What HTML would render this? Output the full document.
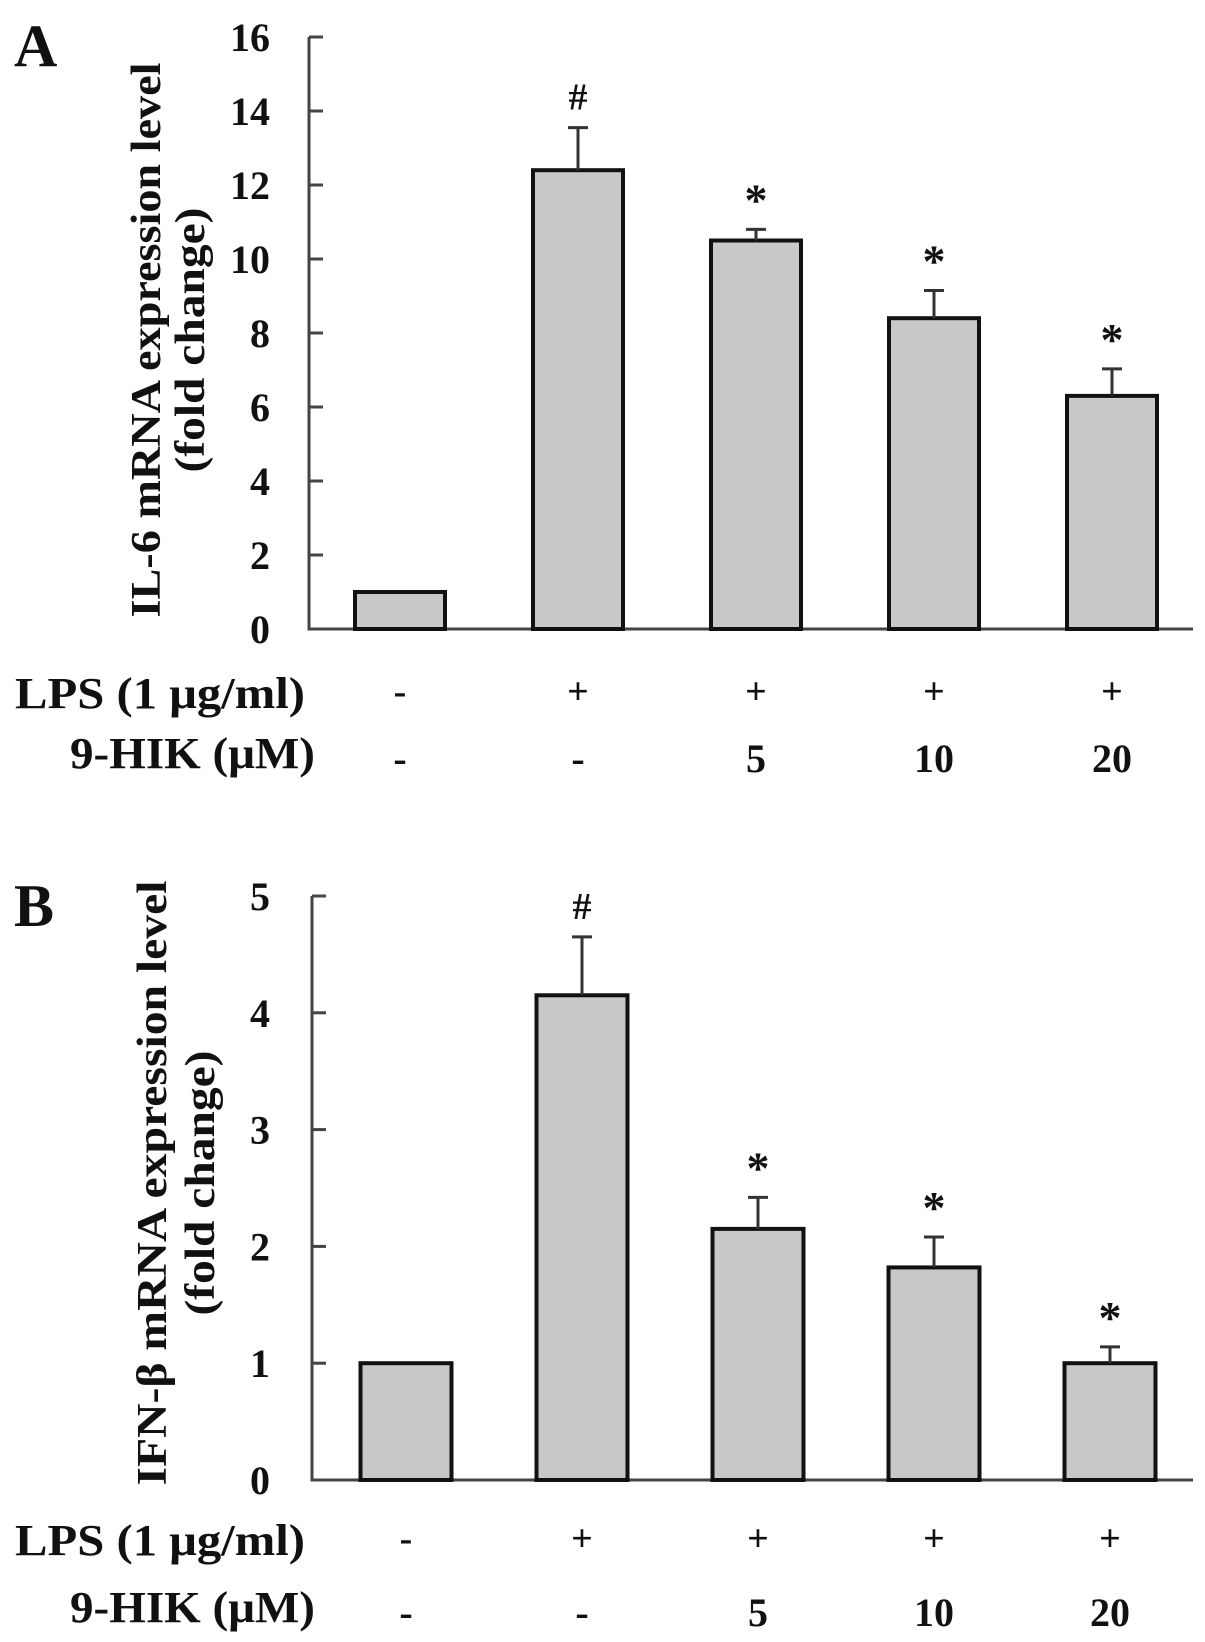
<!DOCTYPE html>
<html><head><meta charset="utf-8"><style>
body{margin:0;background:#fff}
svg{display:block}
text{font-family:"Liberation Serif",serif;font-weight:bold;fill:#111}
</style></head><body>
<svg id="fig" width="1205" height="1642" viewBox="0 0 1205 1642" xmlns="http://www.w3.org/2000/svg"></svg>
<script>
const categories = ["Control","LPS","LPS+5","LPS+10","LPS+20"];
const lpsLabels = ["-","+","+","+","+"];
const hikLabels = ["-","-","5","10","20"];
const valuesA = [1.0, 12.4, 10.5, 8.4, 6.3];
const errTopA = [null, 13.55, 10.8, 9.15, 7.03];
const marksA = ["", "#", "*", "*", "*"];
const ticksA = [0,2,4,6,8,10,12,14,16];
const valuesB = [1.0, 4.15, 2.15, 1.82, 1.0];
const errTopB = [null, 4.65, 2.42, 2.08, 1.14];
const marksB = ["", "#", "*", "*", "*"];
const ticksB = [0,1,2,3,4,5];

const NS="http://www.w3.org/2000/svg";
const svg=document.getElementById('fig');
function mk(tag,attrs,parent){const e=document.createElementNS(NS,tag);for(const k in attrs)e.setAttribute(k,attrs[k]);(parent||svg).appendChild(e);return e;}

function panel(cfg){
  const g=mk('g',{});
  
  
  const y=v=>cfg.y0-(v-cfg.min)/(cfg.max-cfg.min)*(cfg.y0-cfg.yTop);
  const x=i=>cfg.x0c+i*cfg.step;
  const L=mk('text',{x:cfg.letterX,y:cfg.letterY,'font-size':60},g);L.textContent=cfg.letter;
  
  
  const ax=mk('path',{d:`M${cfg.ax},${cfg.yTop} V${cfg.y0} H${cfg.axEnd}`,stroke:'#444','stroke-width':3,fill:'none'},g);
  
  
  cfg.ticks.forEach(t=>{
    mk('line',{x1:cfg.ax,x2:cfg.ax+14,y1:y(t),y2:y(t),stroke:'#444','stroke-width':3},g);
    const tl=mk('text',{x:270,y:y(t)+14,'text-anchor':'end','font-size':40},g);tl.textContent=t;
    
    
  });
  const yt=mk('text',{transform:`translate(${cfg.titleX},${cfg.titleY}) rotate(-90)`,'text-anchor':'middle','font-size':42},g);
  
  
  const t1=mk('tspan',{x:0,y:0,textLength:cfg.titleLen,lengthAdjust:'spacingAndGlyphs'},yt);t1.textContent=cfg.title;
  const t2=mk('tspan',{x:0,y:cfg.titleGap,textLength:265,lengthAdjust:'spacingAndGlyphs'},yt);t2.textContent='(fold change)';
  cfg.values.forEach((v,i)=>{
    const cx=x(i),w=cfg.bw;
    const b=mk('rect',{x:cx-w/2,y:y(v),width:w,height:y(0)-y(v),fill:'#c8c8c8',stroke:'#111','stroke-width':4},g);
    
    
    if(cfg.err[i]!=null){
      const e=mk('path',{d:`M${cx},${y(v)} V${y(cfg.err[i])} M${cx-10},${y(cfg.err[i])} H${cx+10}`,stroke:'#333','stroke-width':3,fill:'none'},g);
      
      
      const m=mk('text',{x:cx,y:y(cfg.err[i])-(cfg.marks[i]=='#'?18:14),'text-anchor':'middle','font-size':cfg.marks[i]=='#'?38:46},g);
      m.textContent=cfg.marks[i];
      
      
    }
    const a=mk('text',{x:cx,y:cfg.lpsY-4,'text-anchor':'middle','font-size':38},g);a.textContent=lpsLabels[i];
    
    
    const h=mk('text',{x:cx,y:cfg.hikY+4,'text-anchor':'middle','font-size':40},g);h.textContent=hikLabels[i];
    
    
  });
  const r1=mk('text',{x:15,y:cfg.lpsY,'font-size':44,textLength:290,lengthAdjust:'spacingAndGlyphs'},g);r1.textContent='LPS (1 μg/ml)';
  
  
  const r2=mk('text',{x:70,y:cfg.hikY,'font-size':44,textLength:245,lengthAdjust:'spacingAndGlyphs'},g);r2.textContent='9-HIK (μM)';
  
  
}

panel({name:'panel-a',letter:'A',letterX:14,letterY:66,ax:309,axEnd:1193,yTop:37,y0:629,min:0,max:16,ticks:ticksA,
  x0c:400,step:178,bw:90,values:valuesA,err:errTopA,marks:marksA,title:'IL-6 mRNA expression level',titleLen:555,titleGap:44,titleX:160,titleY:340,lpsY:708,hikY:768});
panel({name:'panel-b',letter:'B',letterX:14,letterY:926,ax:312,axEnd:1193,yTop:896,y0:1480,min:0,max:5,ticks:ticksB,
  x0c:406,step:176,bw:91,values:valuesB,err:errTopB,marks:marksB,title:'IFN-β mRNA expression level',titleLen:605,titleGap:48,titleX:166,titleY:1183,lpsY:1555,hikY:1622});
</script>
</body></html>
